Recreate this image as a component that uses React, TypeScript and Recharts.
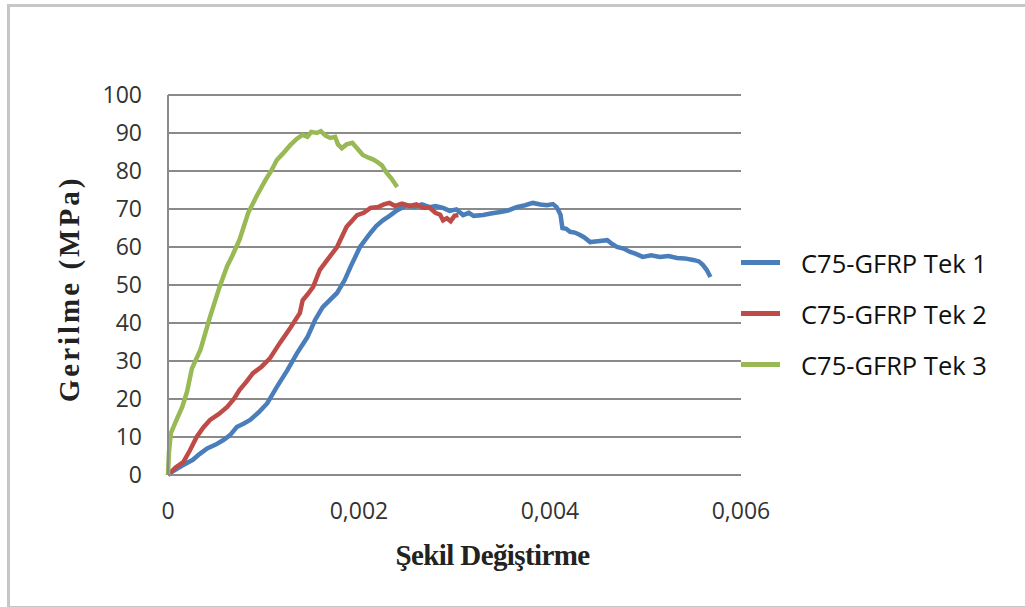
import { LineChart, Line, XAxis, YAxis, CartesianGrid } from "recharts"

// strain (-) vs stress (MPa)
const tek1: [number, number][] = [
  [0, 0], [0.00005, 1], [0.00015, 2.5], [0.00026, 4], [0.00033, 5.5], [0.00041, 7], [0.0005, 8],
  [0.00058, 9.2], [0.00065, 10.5], [0.00072, 12.6], [0.00079, 13.5], [0.00086, 14.5], [0.00095, 16.5],
  [0.00104, 18.9], [0.00114, 23.2], [0.00125, 27.6], [0.00135, 32], [0.00146, 36.3], [0.00154, 40.8],
  [0.00162, 44.2], [0.00177, 47.9], [0.00185, 51.3], [0.00191, 54.7], [0.00201, 60], [0.00212, 63.7],
  [0.00218, 65.5], [0.00225, 67], [0.00232, 68.2], [0.0024, 69.7], [0.0025, 71], [0.00258, 70.6],
  [0.00266, 71.2], [0.00274, 70.5], [0.0028, 70.8], [0.00288, 70.3], [0.00295, 69.5], [0.00302, 69.9],
  [0.00309, 68.4], [0.00315, 69], [0.0032, 68.2], [0.0033, 68.4], [0.00338, 68.8], [0.00348, 69.2],
  [0.00356, 69.6], [0.00365, 70.5], [0.00374, 71], [0.00382, 71.6], [0.0039, 71.2], [0.00397, 71],
  [0.00403, 71.3], [0.00407, 70.5], [0.00411, 68.5], [0.00413, 65], [0.00417, 64.8], [0.00421, 64],
  [0.00426, 63.8], [0.00431, 63.2], [0.00436, 62.5], [0.00442, 61.3], [0.0045, 61.5], [0.0046, 61.8],
  [0.00465, 60.8], [0.0047, 60], [0.00477, 59.6], [0.00484, 58.7], [0.0049, 58.2], [0.00497, 57.4],
  [0.00506, 57.8], [0.00515, 57.4], [0.00524, 57.6], [0.00533, 57.1], [0.00541, 57], [0.0055, 56.6],
  [0.00556, 56.2], [0.0056, 55.3], [0.00564, 54], [0.00568, 52.1],
]

const tek2: [number, number][] = [
  [0, 0], [0.00002, 0.5], [0.00008, 2], [0.00016, 3.4], [0.00023, 6.5], [0.0003, 10], [0.00037, 12.5],
  [0.00044, 14.5], [0.00053, 16], [0.00062, 17.9], [0.00069, 20], [0.00075, 22.4], [0.00082, 24.5],
  [0.00089, 26.8], [0.00098, 28.5], [0.00107, 30.8], [0.00117, 34.7], [0.00128, 38.7], [0.00138, 42.6],
  [0.00141, 46], [0.00146, 47.5], [0.00152, 49.5], [0.00159, 54], [0.00168, 57], [0.00177, 60],
  [0.00187, 65.3], [0.00193, 67], [0.00198, 68.4], [0.00205, 69], [0.00212, 70.3], [0.0022, 70.5],
  [0.00226, 71.2], [0.00232, 71.6], [0.00238, 70.8], [0.00245, 71.4], [0.00253, 70.8], [0.0026, 71.2],
  [0.00267, 70.3], [0.00274, 70.3], [0.0028, 69], [0.00285, 68.5], [0.00288, 67], [0.00292, 67.6],
  [0.00296, 66.8], [0.003, 68.2], [0.00304, 68.4],
]

const tek3: [number, number][] = [
  [0, 0], [0.00001, 6], [0.00003, 11], [0.00008, 14], [0.00015, 18], [0.0002, 22], [0.00025, 28],
  [0.00034, 33], [0.00044, 41.6], [0.00054, 49.5], [0.00062, 55], [0.00067, 57.5], [0.00075, 62],
  [0.00084, 69], [0.00093, 73.5], [0.00102, 77.6], [0.00108, 80], [0.00114, 82.9], [0.0012, 84.5],
  [0.00128, 86.8], [0.00135, 88.5], [0.00141, 89.5], [0.00146, 89], [0.0015, 90.3], [0.00156, 90],
  [0.0016, 90.5], [0.00165, 89.3], [0.0017, 88.7], [0.00175, 89], [0.00178, 87], [0.00182, 86],
  [0.00187, 87], [0.00193, 87.4], [0.00198, 86], [0.00204, 84.2], [0.0021, 83.5], [0.00215, 83],
  [0.00219, 82.4], [0.00224, 81.5], [0.00229, 79.5], [0.00234, 78], [0.0024, 75.8],
]

const seriesNames = ["C75-GFRP Tek 1", "C75-GFRP Tek 2", "C75-GFRP Tek 3"]
const seriesColors = ["#4a7ebb", "#be4b48", "#98b954"]
const xTicks = [0, 0.002, 0.004, 0.006]
const yTicks = [0, 10, 20, 30, 40, 50, 60, 70, 80, 90, 100]

const toPoints = (d: [number, number][]) => d.map(([x, y]) => ({ x, y }))
const series = [tek1, tek2, tek3].map(toPoints)

const tickFont = { fontFamily: "Open Sans", fontSize: 23, fill: "#333" }

const fmtStrain = (v: number) => (v === 0 ? "0" : v.toFixed(3).replace(".", ","))

function LegendBox() {
  return (
    <div style={{ position: "absolute", left: 741, top: 237, fontFamily: "Open Sans", fontSize: 25.5, color: "#111" }}>
      {seriesNames.map((n, i) => (
        <div key={n} style={{ display: "flex", alignItems: "center", height: 51 }}>
          <div style={{ width: 39, height: 5, background: seriesColors[i], marginRight: 21 }} />
          <span>{n}</span>
        </div>
      ))}
    </div>
  )
}

export default function App() {
  return (
    <div style={{ position: "absolute", left: 0, top: 0, width: 1025, height: 607, background: "#fff", overflow: "hidden" }}>
      <div
        style={{
          position: "absolute",
          left: 7,
          top: 4,
          width: 1040,
          height: 599,
          border: "3px solid #c6c6c6",
        }}
      />
      <LineChart width={1025} height={607} margin={{ top: 95, right: 284, bottom: 0, left: 0 }}>
        <CartesianGrid vertical={false} stroke="#8a8a8a" strokeWidth={2} />
        <XAxis
          type="number"
          dataKey="x"
          domain={[0, 0.006]}
          ticks={xTicks}
          interval={0}
          tickFormatter={fmtStrain}
          height={132}
          tickSize={0}
          tickMargin={28}
          axisLine={{ stroke: "#8a8a8a", strokeWidth: 2 }}
          tickLine={false}
          tick={tickFont}
          label={{
            value: "Şekil Değiştirme",
            position: "center",
            dx: 38,
            dy: 14,
            style: { fontFamily: "Liberation Serif", fontWeight: 700, fontSize: 29, fill: "#222", letterSpacing: -0.6 },
          }}
        />
        <YAxis
          type="number"
          domain={[0, 100]}
          ticks={yTicks}
          interval={0}
          width={168}
          tickSize={0}
          tickMargin={26}
          axisLine={{ stroke: "#8a8a8a", strokeWidth: 2 }}
          tickLine={false}
          tick={tickFont}
          label={{
            value: "Gerilme  (MPa)",
            angle: -90,
            position: "center",
            dx: -15,
            dy: 4,
            style: { fontFamily: "Liberation Serif", fontWeight: 700, fontSize: 29, fill: "#222", letterSpacing: 3, whiteSpace: "pre" },
          }}
        />
        {series.map((d, i) => (
          <Line
            key={seriesNames[i]}
            data={d}
            dataKey="y"
            name={seriesNames[i]}
            type="linear"
            stroke={seriesColors[i]}
            strokeWidth={4.5}
            dot={false}
            isAnimationActive={false}
          />
        ))}
      </LineChart>
      <LegendBox />
    </div>
  )
}
